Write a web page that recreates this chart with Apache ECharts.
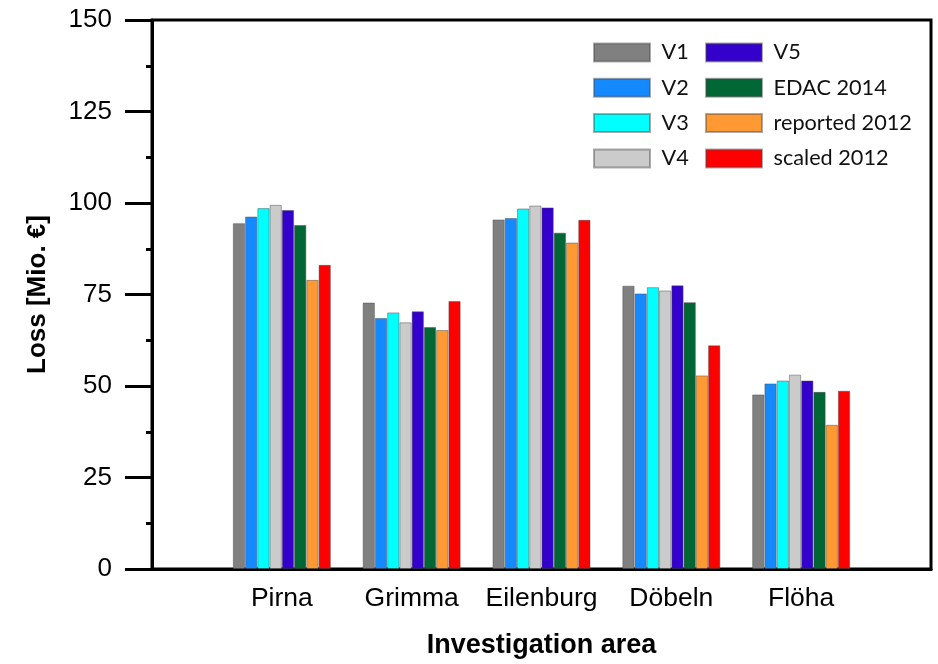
<!DOCTYPE html>
<html>
<head>
<meta charset="utf-8">
<script src="https://cdn.jsdelivr.net/npm/echarts@6/dist/echarts.min.js"></script>
<style>
html,body{margin:0;padding:0;background:#fff;}
#chart{width:938px;height:664px;}
</style>
</head>
<body>
<div id="chart"></div>
<script>
const categories = ['Pirna', 'Grimma', 'Eilenburg', 'Döbeln', 'Flöha'];
const seriesNames = ['V1', 'V2', 'V3', 'V4', 'V5', 'EDAC 2014', 'reported 2012', 'scaled 2012'];
const v1 = [94.5, 72.8, 95.5, 77.4, 47.7];
const v2 = [96.3, 68.6, 95.9, 75.3, 50.7];
const v3 = [98.6, 70.1, 98.5, 77.0, 51.5];
const v4 = [99.5, 67.4, 99.3, 76.1, 53.1];
const v5 = [98.1, 70.4, 98.8, 77.5, 51.5];
const edac2014 = [94.0, 66.1, 91.9, 72.9, 48.4];
const reported2012 = [79.0, 65.3, 89.2, 52.9, 39.4];
const scaled2012 = [83.1, 73.2, 95.4, 61.1, 48.7];
const yTicks = [0, 25, 50, 75, 100, 125, 150];

const colors = ['#808080', '#1589ff', '#00ffff', '#cbcbcb', '#3300cc', '#006633', '#ff9933', '#ff0000'];
const values = [v1, v2, v3, v4, v5, edac2014, reported2012, scaled2012];

const axisCats = [''].concat(categories, ['']);
const chart = echarts.init(document.getElementById('chart'), null, {renderer: 'canvas'});

const series = seriesNames.map((name, i) => ({
  name: name,
  type: 'bar',
  barWidth: 12.25,
  barGap: '0%',
  data: [null].concat(values[i], [null]),
  itemStyle: {color: colors[i], borderColor: 'rgba(70,70,70,0.45)', borderWidth: 1},
  emphasis: {disabled: true},
  animation: false
}));

const legendCommon = {
  orient: 'vertical',
  itemWidth: 56,
  itemHeight: 18,
  itemGap: 13.3,
  icon: 'rect',
  top: 36.5,
  textStyle: {fontFamily: 'Lato', fontSize: 21.7, color: '#111', padding: [0, 0, 0, 6.5], lineHeight: 18},
  selectedMode: false
};

chart.setOption({
  animation: false,
  backgroundColor: '#fff',
  grid: {left: 152, right: 7, top: 20, bottom: 93, show: true, borderColor: '#000', borderWidth: 3, containLabel: false},
  legend: [
    Object.assign({}, legendCommon, {left: 588, data: seriesNames.slice(0, 4)}),
    Object.assign({}, legendCommon, {left: 700, data: seriesNames.slice(4)})
  ],
  xAxis: {
    type: 'category',
    data: axisCats,
    boundaryGap: false,
    name: 'Investigation area',
    nameLocation: 'middle',
    nameGap: 63,
    nameTextStyle: {fontFamily: 'Liberation Sans', fontWeight: 'bold', fontSize: 27, color: '#000'},
    axisLine: {lineStyle: {color: '#000', width: 3}},
    axisTick: {show: false},
    axisLabel: {interval: 0, margin: 16, fontFamily: 'Liberation Sans', fontSize: 26.5, color: '#000'},
    splitLine: {show: false}
  },
  yAxis: {
    type: 'value',
    min: yTicks[0],
    max: yTicks[yTicks.length - 1],
    interval: 25,
    name: 'Loss [Mio. €]',
    nameLocation: 'middle',
    nameGap: 101,
    nameTextStyle: {fontFamily: 'Liberation Sans', fontWeight: 'bold', fontSize: 26, color: '#000'},
    axisLine: {show: true, lineStyle: {color: '#000', width: 3}},
    axisTick: {show: true, inside: false, length: 27, lineStyle: {color: '#000', width: 3}},
    minorTick: {show: true, splitNumber: 2, length: 6, lineStyle: {color: '#000', width: 3}},
    axisLabel: {margin: 40, fontFamily: 'Liberation Sans', fontSize: 26, color: '#000'},
    splitLine: {show: false}
  },
  series: series
});
</script>
</body>
</html>
